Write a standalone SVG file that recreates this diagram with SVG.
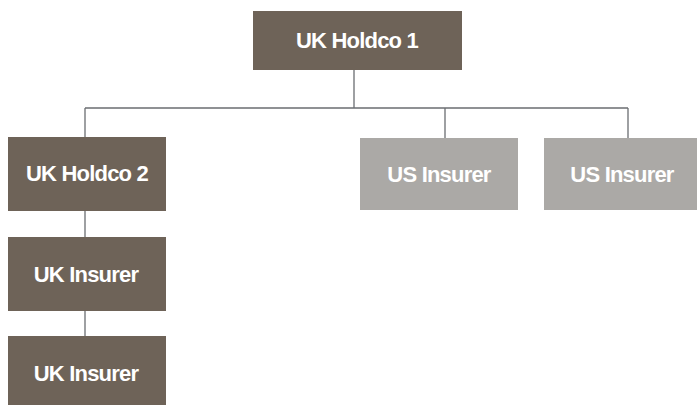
<svg xmlns="http://www.w3.org/2000/svg" width="697" height="405" viewBox="0 0 697 405">
<style>
.uk{fill:#6e6358}
.us{fill:#aba9a6}
.t{fill:#ffffff;font-family:"Liberation Sans",Arial,sans-serif;font-weight:bold;font-size:22px;letter-spacing:-0.8px;text-anchor:middle}
.c{stroke:#6b6e72;stroke-width:1.3;fill:none}
</style>
<rect width="697" height="405" fill="#ffffff"/>
<g id="connectors">
<path class="c" d="M354,70 V108 M85,108 H628 M85,108 V137 M445,108 V138 M628,108 V138 M85,211 V237 M85,311 V336"/>
</g>
<g id="uk-holdco-1"><rect class="uk" x="253" y="11" width="209" height="59"/><text class="t" x="357" y="48">UK Holdco 1</text></g>
<g id="uk-holdco-2"><rect class="uk" x="8" y="137" width="158" height="74"/><text class="t" x="87" y="181">UK Holdco 2</text></g>
<g id="us-insurer-1"><rect class="us" x="360" y="138" width="158" height="72"/><text class="t" x="439" y="182">US Insurer</text></g>
<g id="us-insurer-2"><rect class="us" x="544" y="138" width="158" height="72"/><text class="t" x="622" y="182">US Insurer</text></g>
<g id="uk-insurer-1"><rect class="uk" x="8" y="237" width="158" height="74"/><text class="t" x="86" y="282">UK Insurer</text></g>
<g id="uk-insurer-2"><rect class="uk" x="8" y="336" width="158" height="74"/><text class="t" x="86" y="381">UK Insurer</text></g>
</svg>
